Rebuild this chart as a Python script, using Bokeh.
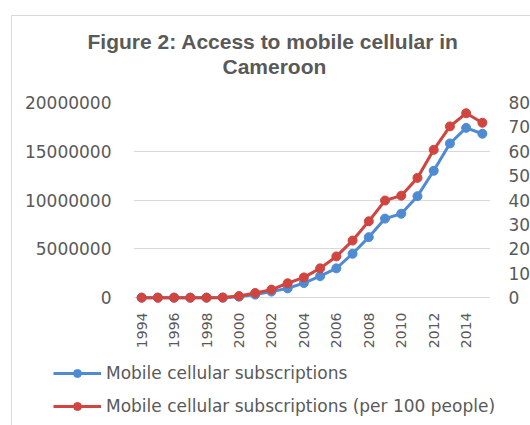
import math

from bokeh.plotting import figure
from bokeh.layouts import column
from bokeh.models import (Range1d, LinearAxis, FixedTicker, Legend,
                          LegendItem, Title)
from bokeh.embed import file_html
from bokeh.resources import INLINE

# Mobile cellular access in Cameroon, 1994-2015
years = list(range(1994, 2016))
subscriptions = [0, 0, 0, 0, 0, 0, 100000, 310000, 620000, 950000, 1500000,
                 2200000, 3000000, 4500000, 6200000, 8100000, 8600000,
                 10400000, 13000000, 15800000, 17400000, 16800000]
per_100_people = [0, 0, 0, 0, 0, 0.05, 0.65, 1.9, 3.3, 5.9, 8.3, 12.0, 16.9,
                  23.4, 31.3, 39.8, 41.8, 49.1, 60.6, 70.2, 75.6, 71.7]

left_ticks = [0, 5000000, 10000000, 15000000, 20000000]
left_tick_labels = ["0", "5000000", "10000000", "15000000", "20000000"]
right_ticks = [0, 10, 20, 30, 40, 50, 60, 70, 80]
right_tick_labels = ["0", "10", "20", "30", "40", "50", "60", "70", "80"]
year_ticks = list(range(1994, 2016, 2))

title_lines = ["Figure 2: Access to mobile cellular in", "Cameroon"]
series_names = ["Mobile cellular subscriptions",
                "Mobile cellular subscriptions (per 100 people)"]

BLUE = "#4F8BD2"
RED = "#D0453F"
TEXT = "#595959"
GRID = "#D9D9D9"
FONT = "DejaVu Sans"
NAN = float("nan")

p = figure(frame_width=357, frame_height=201,
           min_border_left=121, min_border_right=39,
           min_border_top=86, min_border_bottom=44,
           x_range=Range1d(1993.5, 2015.5),
           y_range=Range1d(-600000, 20000000),
           output_backend="svg", toolbar_location=None,
           outline_line_color=None, background_fill_color="white",
           border_fill_color="white")

p.extra_y_ranges = {"pct": Range1d(-2.4, 80)}

# left axis: absolute subscriptions
ya = p.yaxis[0]
ya.ticker = FixedTicker(ticks=left_ticks)
ya.major_label_overrides = dict(zip(left_ticks, left_tick_labels))
ya.axis_line_color = None
ya.major_tick_line_color = None
ya.minor_tick_line_color = None
ya.major_label_standoff = 16
ya.major_label_text_font = FONT
ya.major_label_text_font_size = "17px"
ya.major_label_text_color = TEXT

# right axis: subscriptions per 100 people
ra = LinearAxis(y_range_name="pct", ticker=FixedTicker(ticks=right_ticks))
ra.major_label_overrides = dict(zip(right_ticks, right_tick_labels))
ra.axis_line_color = None
ra.major_tick_line_color = None
ra.minor_tick_line_color = None
ra.major_label_standoff = 12
ra.major_label_text_font = FONT
ra.major_label_text_font_size = "17px"
ra.major_label_text_color = TEXT
p.add_layout(ra, "right")

# bottom axis: years, labels reading upwards
xa = p.xaxis[0]
xa.ticker = FixedTicker(ticks=year_ticks)
xa.major_label_overrides = {y: str(y) for y in year_ticks}
xa.major_label_orientation = math.pi / 2
xa.axis_line_color = None
xa.major_tick_line_color = None
xa.minor_tick_line_color = None
xa.major_label_standoff = 3
xa.major_label_text_font = FONT
xa.major_label_text_font_size = "14px"
xa.major_label_text_color = TEXT

p.xgrid.grid_line_color = None
p.ygrid.ticker = FixedTicker(ticks=left_ticks)
p.ygrid.grid_line_color = GRID
p.ygrid.grid_line_width = 1

p.line(years, subscriptions, line_color=BLUE, line_width=3)
p.scatter(years, subscriptions, size=9, fill_color=BLUE, line_color=BLUE)
p.line(years, per_100_people, line_color=RED, line_width=3,
       y_range_name="pct")
p.scatter(years, per_100_people, size=9, fill_color=RED, line_color=RED,
          y_range_name="pct")

# two-line heading above the plot area, with a small gap below it
spacer = Title(text=" ", text_font_size="21px", standoff=0)
p.add_layout(spacer, "above")
for offset, line in zip([89, -46], reversed(title_lines)):
    t = Title(text=line, align="left", offset=offset, standoff=0,
              text_font="Liberation Sans", text_font_style="bold",
              text_font_size="21px", text_color=TEXT)
    p.add_layout(t, "above")

# legend strip under the chart (key renderers carry no visible points)
lf = figure(width=518, height=76, x_range=Range1d(0, 1),
            y_range=Range1d(0, 1), min_border=0,
            output_backend="svg", toolbar_location=None,
            outline_line_color=None, border_fill_color="white")
lf.axis.visible = False
lf.grid.visible = False
key_b = [lf.line([NAN], [NAN], line_color=BLUE, line_width=3),
         lf.scatter([NAN], [NAN], size=9, fill_color=BLUE, line_color=BLUE)]
key_r = [lf.line([NAN], [NAN], line_color=RED, line_width=3),
         lf.scatter([NAN], [NAN], size=9, fill_color=RED, line_color=RED)]
legend = Legend(items=[LegendItem(label=series_names[0], renderers=key_b),
                       LegendItem(label=series_names[1], renderers=key_r)],
                location=(41, 11), orientation="vertical",
                glyph_width=48, glyph_height=20, spacing=13,
                label_standoff=5, padding=0, margin=0,
                border_line_color=None, background_fill_alpha=0,
                label_text_font=FONT, label_text_font_size="17px",
                label_text_color=TEXT)
lf.add_layout(legend)

# keep each figure's own borders instead of lining up the two frames
for fig in (p, lf):
    if "frame_align" in fig.properties():
        fig.frame_align = False

page = column(p, lf, spacing=0, margin=(15, 0, 0, 11),
              styles={"border-left": f"1px solid {GRID}",
                      "border-top": f"1px solid {GRID}"})

open("out.html", "w").write(file_html(page, INLINE))
